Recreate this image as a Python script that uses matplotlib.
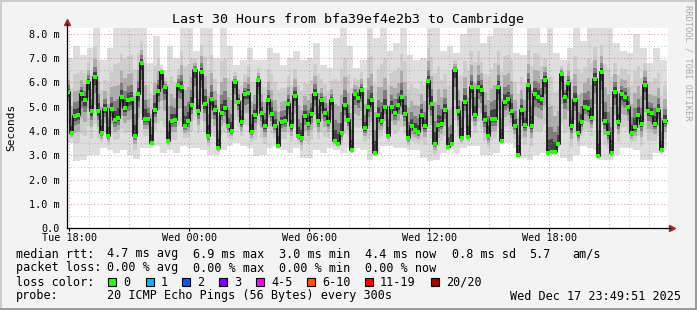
import numpy as np
import matplotlib
matplotlib.use("Agg")
from matplotlib import pyplot as plt
from matplotlib.patches import Rectangle
from matplotlib.lines import Line2D

W, H = 697, 310
MONO = "DejaVu Sans Mono"

# time axis: hours after Tue 18:00, median in 10 minute bins, smoke in 20 minute bins
t_start = -0.13
bin_h = 1 / 6

median_ms = [
    5.6, 3.9, 4.6, 4.65, 5.5, 5.25, 6.0, 4.8, 6.2, 4.8, 3.9, 4.9, 3.8, 4.9, 4.45,
    4.55, 5.4, 4.95, 5.25, 5.3, 3.8, 5.5, 6.8, 4.5, 4.5, 3.5, 4.85, 5.65, 6.4, 5.8,
    3.6, 4.4, 4.45, 5.9, 5.8, 4.2, 4.4, 5.05, 6.5, 4.8, 6.4, 5.1, 3.8, 5.3, 4.85,
    3.3, 4.75, 4.95, 4.2, 4.0, 6.0, 5.2, 4.35, 5.5, 5.55, 3.95, 4.65, 6.1, 4.75, 4.2,
    5.25, 4.7, 4.2, 3.4, 4.35, 4.4, 5.1, 4.2, 5.45, 3.8, 3.7, 4.6, 4.3, 4.7, 5.5,
    4.4, 5.25, 4.75, 4.35, 5.25, 3.6, 3.45, 3.9, 5.05, 4.45, 3.2, 5.5, 5.35, 5.7, 4.1,
    5.0, 5.25, 3.1, 4.65, 4.4, 5.0, 3.8, 5.0, 4.75, 5.05, 5.4, 4.7, 3.7, 4.2, 4.05,
    3.95, 4.65, 4.2, 6.05, 5.1, 3.45, 4.25, 4.3, 4.85, 3.35, 3.45, 6.5, 4.8, 3.7, 5.2,
    3.75, 5.8, 4.65, 5.8, 5.7, 4.45, 3.8, 4.5, 4.5, 5.8, 3.6, 5.2, 5.3, 4.8, 4.2,
    3.0, 4.85, 4.25, 5.9, 4.2, 5.5, 5.4, 5.3, 6.1, 3.1, 3.15, 3.15, 3.45, 6.35, 5.4,
    5.95, 4.2, 5.25, 3.9, 4.35, 5.0, 4.95, 4.55, 6.15, 2.95, 6.4, 4.4, 3.9, 3.1, 5.6,
    4.35, 5.5, 5.4, 5.0, 3.9, 4.15, 4.65, 4.3, 5.9, 4.8, 4.75, 4.3, 4.85, 3.2, 4.4,
]

smoke_hi = [
    7.0, 7.5, 7.1, 7.4, 8.3, 6.9, 7.4, 8.3, 8.3, 8.3, 8.3, 8.3, 6.8, 7.9, 6.5,
    7.5, 7.0, 8.3, 8.3, 7.3, 8.3, 8.3, 7.0, 8.3, 7.5, 6.7, 6.9, 7.4, 6.9, 6.9,
    7.4, 7.2, 6.7, 7.0, 7.3, 6.9, 7.0, 7.6, 6.7, 6.6, 7.8, 8.3, 7.5, 6.6, 6.9,
    8.3, 7.8, 8.3, 7.3, 7.6, 8.3, 7.1, 6.9, 7.0, 8.3, 8.3, 7.3, 7.5, 7.2, 8.0,
    8.3, 8.3, 7.6, 7.9, 8.3, 8.3, 8.3, 7.2, 7.1, 8.3, 8.3, 7.6, 8.3, 7.2, 6.9,
    7.4, 8.3, 7.7, 8.3, 8.3, 8.3, 8.3, 7.6, 7.3, 7.2, 8.0, 7.4, 6.8, 7.4, 6.9,
]

smoke_lo = [
    3.5, 2.75, 2.8, 3.0, 3.0, 3.3, 3.2, 3.1, 3.2, 3.0, 2.85, 3.3, 3.3, 3.4, 3.1,
    3.2, 3.1, 3.4, 3.3, 3.3, 3.2, 3.0, 3.0, 3.2, 3.4, 3.5, 3.4, 3.3, 2.95, 3.0,
    3.3, 3.4, 3.2, 3.1, 3.3, 2.9, 2.9, 3.2, 3.1, 3.3, 3.2, 3.1, 3.3, 3.3, 3.2,
    2.8, 3.0, 3.4, 3.4, 3.3, 3.3, 3.2, 3.2, 2.9, 2.75, 2.8, 3.1, 3.2, 3.1, 3.3,
    3.4, 3.4, 3.0, 3.0, 3.1, 3.5, 3.5, 3.3, 2.9, 2.8, 3.0, 3.1, 3.1, 3.2, 2.9,
    2.75, 3.0, 3.4, 3.3, 3.2, 2.8, 2.8, 3.0, 3.3, 3.3, 3.2, 2.8, 2.8, 3.1, 3.2,
]

xtick_hours = [0, 6, 12, 18, 24]
xtick_labels = ["Tue 18:00", "Wed 00:00", "Wed 06:00", "Wed 12:00", "Wed 18:00"]
ytick_values = [0, 1, 2, 3, 4, 5, 6, 7, 8]
ytick_labels = ["0.0", "1.0 m", "2.0 m", "3.0 m", "4.0 m", "5.0 m", "6.0 m", "7.0 m", "8.0 m"]

title = "Last 30 Hours from bfa39ef4e2b3 to Cambridge"
rtt_stats = ["4.7 ms avg", "6.9 ms max", "3.0 ms min", "4.4 ms now", "0.8 ms sd", "5.7", "am/s"]
loss_stats = ["0.00 % avg", "0.00 % max", "0.00 % min", "0.00 % now"]
loss_labels = ["0", "1", "2", "3", "4-5", "6-10", "11-19", "20/20"]
loss_colors = ["#26ff00", "#00b8ff", "#0059ff", "#7e00ff", "#ff00ff", "#ff5500", "#ff0000", "#a10000"]
probe_text = "20 ICMP Echo Pings (56 Bytes) every 300s"
stamp = "Wed Dec 17 23:49:51 2025"


def fx(x):
    return x / W


def fy(y):
    return 1 - y / H


fig = plt.figure(figsize=(W / 100, H / 100), dpi=100, facecolor="#f3f3f3")
ax = fig.add_axes([fx(66.7), fy(228.3), (667.5 - 66.7) / W, 200.3 / H])
ax.set_facecolor("white")
ax.set_xlim(t_start, (667.5 - 69.3) / 20)
ax.set_ylim(0, 200.3 / 24.35)

med = np.array(median_ms)
lo = np.minimum(np.repeat(smoke_lo, 2), med - 0.15)
hi = np.maximum(np.repeat(smoke_hi, 2), med + 0.3)
edges = t_start + bin_h * np.arange(len(med) + 1)
centers = edges[:-1] + bin_h / 2


def ext(a):
    return np.append(a, a[-1])


# smoke layers, outermost first
fracs = [1.0, 0.6, 0.36, 0.2, 0.1]
greys = ["#dedede", "#cdcdcd", "#adadad", "#7e7e7e", "#424242"]
for f, c in zip(fracs, greys):
    ax.fill_between(edges, ext(med - f * (med - lo)), ext(med + f * (hi - med)),
                    step="post", color=c, lw=0, zorder=1)

# grid
for h in range(0, 30):
    major = h % 3 == 0
    ax.axvline(h, color="#d06060" if major else "#a0a0a0", alpha=0.55,
               lw=0.8, ls=(0, (1, 2)), zorder=2)
for v in np.arange(0.5, 8.5, 0.5):
    major = float(v).is_integer()
    ax.axhline(v, color="#d06060" if major else "#a0a0a0", alpha=0.55,
               lw=0.8, ls=(0, (1, 2)), zorder=2)

# median
ax.plot(edges, ext(med), drawstyle="steps-post", color="#141414", lw=1.3, zorder=3)
ax.plot(centers, med, ls="none", marker="s", ms=2.4, mew=0, color=loss_colors[0], zorder=4)

# axes
for s in ax.spines.values():
    s.set_visible(False)
ax.plot([0, 0], [0, 1.02], transform=ax.transAxes, color="black", lw=0.9, clip_on=False, zorder=5)
ax.plot([0, 1.004], [0, 0], transform=ax.transAxes, color="black", lw=0.9, clip_on=False, zorder=5)
ax.plot([0], [1.028], marker="^", ms=4.5, color="#a02828", transform=ax.transAxes, clip_on=False)
ax.plot([1.007], [0], marker=">", ms=4.5, color="#a02828", transform=ax.transAxes, clip_on=False)

ax.set_xticks(xtick_hours)
ax.set_xticklabels(xtick_labels, family=MONO, fontsize=7.3)
ax.set_yticks(ytick_values)
ax.set_yticklabels(ytick_labels, family=MONO, fontsize=7.3)
ax.tick_params(axis="x", length=2.2, width=0.8, pad=1.3)
ax.tick_params(axis="y", length=0, pad=5.2)

# texts
fig.text(fx(348), fy(19), title, family=MONO, fontsize=9.5, ha="center", va="center")
fig.text(fx(11), fy(127), "Seconds", family=MONO, fontsize=8, rotation=90, ha="center", va="center")
fig.text(fx(688), fy(5), "RRDTOOL / TOBI OETIKER", family=MONO, fontsize=6.2,
         rotation=-90, ha="center", va="top", color="#a8a8a8")

lg = dict(family=MONO, fontsize=8.5, va="center", ha="left")
fig.text(fx(16), fy(254), "median rtt:", **lg)
for s, x in zip(rtt_stats, [107, 193, 279, 365, 452, 529, 572]):
    fig.text(fx(x), fy(254), s, **lg)
fig.text(fx(16), fy(268), "packet loss:", **lg)
for s, x in zip(loss_stats, [107, 193, 279, 365]):
    fig.text(fx(x), fy(268), s, **lg)
fig.text(fx(16), fy(282), "loss color:", **lg)
for s, c, x in zip(loss_labels, loss_colors, [123, 161, 197, 234, 271, 322, 380, 446]):
    fig.add_artist(Rectangle((fx(x - 15), fy(286)), 8 / W, 8 / H, transform=fig.transFigure,
                             facecolor=c, edgecolor="black", lw=0.8))
    fig.text(fx(x), fy(282), s, **lg)
fig.text(fx(16), fy(296), "probe:", **lg)
fig.text(fx(107), fy(296), probe_text, **lg)
fig.text(fx(681), fy(296), stamp, family=MONO, fontsize=8.5, va="center", ha="right")

# frame shading
fig.add_artist(Line2D([0, 1], [fy(0.5), fy(0.5)], transform=fig.transFigure, color="#cbcbcb", lw=1.4))
fig.add_artist(Line2D([fx(0.5), fx(0.5)], [0, 1], transform=fig.transFigure, color="#cbcbcb", lw=1.4))
fig.add_artist(Line2D([0, 1], [fy(309), fy(309)], transform=fig.transFigure, color="#999999", lw=1.4))
fig.add_artist(Line2D([fx(696), fx(696)], [0, 1], transform=fig.transFigure, color="#999999", lw=1.4))

fig.savefig("out.png", dpi=100, facecolor=fig.get_facecolor())
